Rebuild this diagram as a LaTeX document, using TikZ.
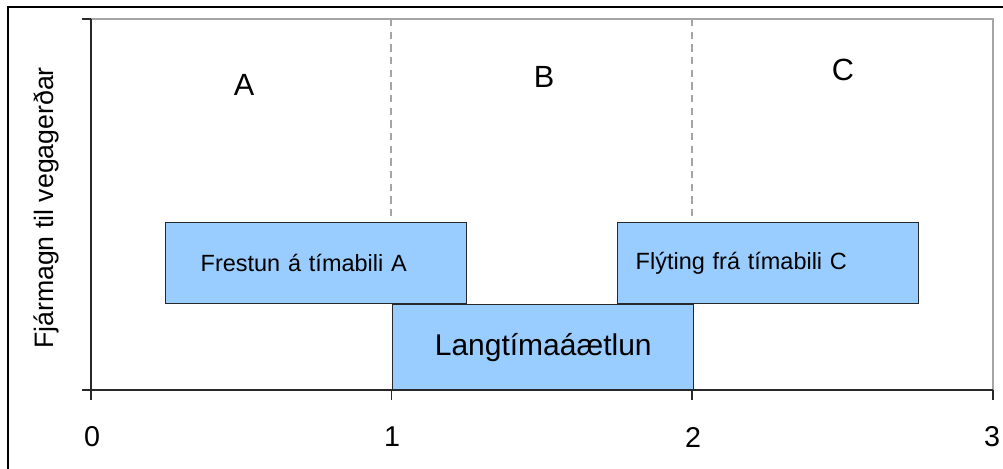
\documentclass[tikz,border=0pt]{standalone}
\usepackage{fontspec}
\setmainfont{Liberation Sans}
\definecolor{barblue}{RGB}{153,204,255}
\definecolor{gridgray}{RGB}{165,165,165}
\definecolor{edgedark}{RGB}{40,40,40}
\begin{document}
\begin{tikzpicture}[x=0.75pt,y=-0.75pt,
  bar/.style={draw=edgedark, line width=1.1pt, fill=barblue, inner ysep=0pt,
    minimum height=60.75pt, minimum width=225.75pt, anchor=north west},
  smalltext/.style={font=\fontsize{17.6}{20}\selectfont},
  ticklabel/.style={font=\fontsize{21.5}{24}\selectfont, inner sep=0pt},
  zonelabel/.style={font=\fontsize{23}{26}\selectfont, inner sep=0pt},
  gridline/.style={draw=gridgray, line width=0.9pt, dash pattern=on 5.5pt off 4pt},
  frameline/.style={draw=gridgray, line width=0.9pt},
  axisline/.style={draw=edgedark, line width=1pt}]
\useasboundingbox (0,0) rectangle (1003,468);
\clip (0,0) rectangle (1003,468);
% outer frame
\draw[line width=1.5pt] (1015,7) -- (8,7) -- (8,480);
% grid
\coordinate (g1top) at (391,19);
\coordinate (g1bot) at (391,300);
\coordinate (g2top) at (692,19);
\coordinate (g2bot) at (692,300);
\draw[gridline] (g1top) -- (g1bot);
\draw[gridline] (g2top) -- (g2bot);
% plot frame (top and right, gray)
\coordinate (tl) at (91,19);
\coordinate (tr) at (993,19);
\coordinate (br) at (993,390);
\draw[frameline] (tl) -- (tr) -- (br);
% bars
\node[bar, smalltext, text width=173.25pt, inner xsep=26.25pt, align=left] (frestun) at (165,222) {Frestun á tímabili A};
\node[bar, smalltext, text width=198.75pt, inner xsep=13.5pt, align=left] (flyting) at (617,222) {Flýting frá tímabili C};
\node[bar, minimum height=63.75pt, font=\fontsize{22.5}{26}\selectfont] (lang) at (392,304) {Langtímaáætlun};
% axes
\coordinate (o) at (91,390);
\coordinate (ytop) at (91,19);
\coordinate (xend) at (993,390);
\draw[axisline] (ytop) -- (o) -- (xend);
\draw[axisline] (82,19) -- (ytop);
\draw[axisline] (82,390) -- (o);
\foreach \x in {91,391.5,692,993} {\draw[axisline] (\x,390) -- (\x,400);}
% tick labels
\node[ticklabel] (t0) at (92,437) {0};
\node[ticklabel] (t1) at (392,437) {1};
\node[ticklabel] (t2) at (693,437) {2};
\node[ticklabel] (t3) at (992,437) {3};
% zone labels
\node[zonelabel] (za) at (244,85) {A};
\node[zonelabel] (zb) at (544,77) {B};
\node[zonelabel] (zc) at (843,70) {C};
% y label
\node[rotate=90, font=\fontsize{20}{24}\selectfont] (ylab) at (46,208) {Fjármagn til vegagerðar};
\end{tikzpicture}
\end{document}
